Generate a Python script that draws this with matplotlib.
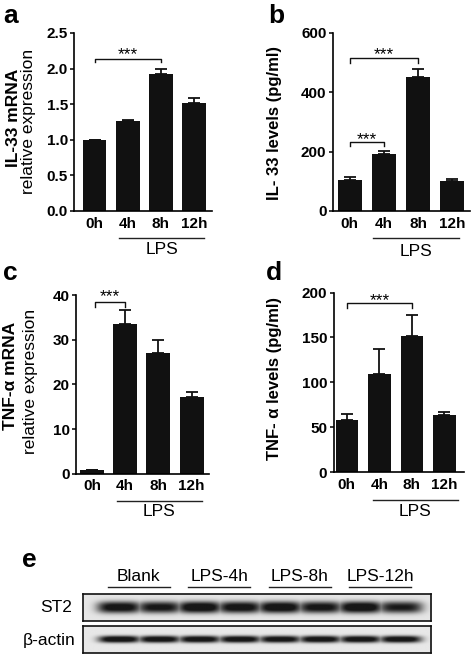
import numpy as np
import matplotlib
matplotlib.use('Agg')
import matplotlib.pyplot as plt

plt.rcParams['font.family'] = ['Liberation Sans', 'DejaVu Sans']

# ---------------- data ----------------
times = ['0h', '4h', '8h', '12h']

il33_mrna = [1.00, 1.27, 1.92, 1.51]
il33_mrna_err = [0.0, 0.01, 0.07, 0.08]

il33_prot = [105, 193, 452, 100]
il33_prot_err = [10, 10, 27, 7]

tnf_mrna = [0.9, 33.6, 27.1, 17.1]
tnf_mrna_err = [0.0, 3.2, 2.8, 1.3]

tnf_prot = [58.5, 109, 151.5, 63.5]
tnf_prot_err = [5.8, 28, 24, 3.8]

blot_groups = ['Blank', 'LPS-4h', 'LPS-8h', 'LPS-12h']
st2_band = [0.90, 0.84, 0.97, 0.90, 0.95, 0.86, 0.97, 0.80]
actin_band = [0.98, 0.95, 0.95, 0.95, 0.93, 0.95, 0.95, 0.95]

# ---------------- layout helpers ----------------
W, H = 473, 656
fig = plt.figure(figsize=(W / 100, H / 100), dpi=100)
fig.patch.set_facecolor('white')

BAR = '#111111'


def rect(x0, x1, ytop, ybot):
    return [x0 / W, 1 - ybot / H, (x1 - x0) / W, (ybot - ytop) / H]


def fpos(x, y):
    return x / W, 1 - y / H


def bar_panel(r, vals, errs, ylim, yticks, fmt, xlim, width, lps, brackets):
    ax = fig.add_axes(r)
    x = np.arange(len(vals))
    ax.bar(x, vals, width=width, color=BAR, edgecolor=BAR, linewidth=0, zorder=2)
    e = np.array(errs)
    ax.errorbar(x, vals, yerr=[np.zeros_like(e), e], fmt='none', ecolor=BAR,
                elinewidth=1.3, capsize=4, capthick=1.3, zorder=1)
    ax.set_xlim(*xlim)
    ax.set_ylim(*ylim)
    ax.set_yticks(yticks)
    ax.set_yticklabels([fmt.format(v) for v in yticks], fontsize=11, fontweight='bold')
    ax.set_xticks(x)
    ax.set_xticklabels(times, fontsize=11, fontweight='bold')
    ax.tick_params(axis='x', length=0, pad=4)
    ax.tick_params(axis='y', length=3, width=1.1, pad=1.5)
    for s in ['top', 'right']:
        ax.spines[s].set_visible(False)
    for s in ['left', 'bottom']:
        ax.spines[s].set_linewidth(1.2)
    ax.set_facecolor('none')
    # LPS underline
    lx0, lx1, ly, ty = lps
    tr = ax.get_xaxis_transform()
    ax.plot([lx0, lx1], [ly, ly], color='#222222', lw=1.0, transform=tr, clip_on=False)
    ax.text((lx0 + lx1) / 2, ty, 'LPS', transform=tr, ha='center', va='center', fontsize=12.5)
    # significance brackets
    for (b0, b1, yb, yt, ys) in brackets:
        ax.plot([b0, b0, b1, b1], [yt, yb, yb, yt], color='#111111', lw=1.0, clip_on=False)
        ax.text((b0 + b1) / 2, ys, '***', ha='center', va='baseline', fontsize=12.5)
    return ax


# panel a
bar_panel(rect(74, 212, 33, 211), il33_mrna, il33_mrna_err, (0, 2.5),
          [0, 0.5, 1.0, 1.5, 2.0, 2.5], '{:.1f}', (-0.62, 3.55), 0.72,
          (0.74, 3.31, -0.152, -0.219),
          [(0, 2, 2.14, 2.09, 2.13)])

# panel b
bar_panel(rect(332.7, 470, 33, 211), il33_prot, il33_prot_err, (0, 600),
          [0, 200, 400, 600], '{:.0f}', (-0.50, 3.52), 0.70,
          (0.67, 3.19, -0.150, -0.230),
          [(0, 2, 515, 500, 512), (0, 1, 234, 218, 226)])

# panel c
bar_panel(rect(76, 209, 295.3, 473.7), tnf_mrna, tnf_mrna_err, (0, 40),
          [0, 10, 20, 30, 40], '{:.0f}', (-0.48, 3.52), 0.72,
          (0.74, 3.32, -0.153, -0.213),
          [(0.1, 1.0, 38.4, 37.4, 38.6)])

# panel d
bar_panel(rect(333.5, 463.7, 292.6, 472), tnf_prot, tnf_prot_err, (0, 200),
          [0, 50, 100, 150, 200], '{:.0f}', (-0.41, 3.59), 0.69,
          (0.79, 3.40, -0.156, -0.221),
          [(0, 2, 188.3, 182.7, 185.6)])

# y labels
fig.text(*fpos(14, 118), 'IL-33 mRNA', rotation=90, ha='center', va='center',
         fontsize=12.5, fontweight='bold')
fig.text(*fpos(29, 121), 'relative expression', rotation=90, ha='center', va='center',
         fontsize=12.5)
fig.text(*fpos(274, 123), 'IL- 33 levels (pg/ml)', rotation=90, ha='center', va='center',
         fontsize=12, fontweight='bold')
fig.text(*fpos(11, 376), 'TNF-α mRNA', rotation=90, ha='center', va='center',
         fontsize=12.5, fontweight='bold')
fig.text(*fpos(30, 381), 'relative expression', rotation=90, ha='center', va='center',
         fontsize=12.5)
fig.text(*fpos(274, 378), 'TNF- α levels (pg/ml)', rotation=90, ha='center', va='center',
         fontsize=12, fontweight='bold')

# panel letters
for lab, x, y in [('a', 3, 23), ('b', 268, 23), ('c', 3, 280), ('d', 266, 280), ('e', 22, 567)]:
    fig.text(*fpos(x, y), lab, ha='left', va='baseline', fontsize=19, fontweight='bold')

# ---------------- panel e: western blot ----------------
XL = (-0.896, 7.77)
lanes = np.arange(len(st2_band))


def blot_axes(r, intens, yc, sy, sx, bg):
    ax = fig.add_axes(r)
    xs = np.linspace(XL[0], XL[1], 500)
    ys = np.linspace(0, 1, 80)
    X, Y = np.meshgrid(xs, ys)
    dark = np.zeros_like(X)
    for i, v in zip(lanes, intens):
        prof = np.exp(-np.abs((X - i) / sx) ** 4) * np.exp(-np.abs((Y - yc) / sy) ** 2.5)
        dark = np.maximum(dark, v * prof)
    dark = np.clip(1.25 * dark, 0, 1)
    img = bg * (1 - 0.9 * dark)
    ax.imshow(img, cmap='gray', vmin=0, vmax=1, aspect='auto', origin='lower',
              extent=(XL[0], XL[1], 0, 1), interpolation='bilinear')
    ax.set_xlim(*XL)
    ax.set_ylim(0, 1)
    ax.set_xticks([])
    ax.set_yticks([])
    for s in ax.spines.values():
        s.set_linewidth(1.2)
        s.set_color('#111111')
    return ax


ax_st2 = blot_axes(rect(82.7, 431, 594, 621), st2_band, 0.49, 0.21, 0.55, 0.9)
ax_act = blot_axes(rect(82.7, 431, 625.7, 652.7), actin_band, 0.51, 0.13, 0.52, 0.91)

tr = ax_st2.get_xaxis_transform()
for k, g in enumerate(blot_groups):
    c = 2 * k + 0.5
    ax_st2.plot([c - 0.77, c + 0.77], [1.248, 1.248], color='#222222', lw=1.0,
                transform=tr, clip_on=False)
    ax_st2.text(c, 1.49, g, transform=tr, ha='center', va='baseline', fontsize=12.5)

fig.text(*fpos(72, 607.7), 'ST2', ha='right', va='center', fontsize=12.5)
fig.text(*fpos(76, 640), 'β-actin', ha='right', va='center', fontsize=12.5)

fig.savefig('out.png', dpi=100)
